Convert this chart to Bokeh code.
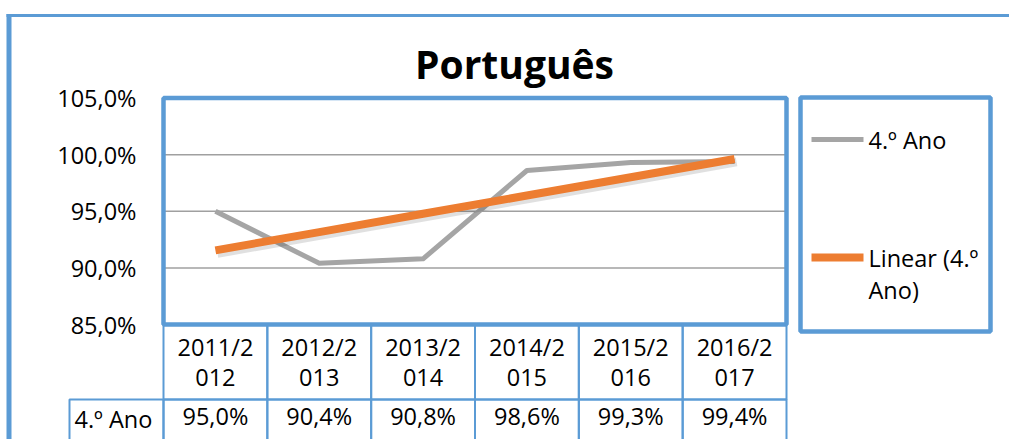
import numpy as np
from bokeh.plotting import figure
from bokeh.models import Range1d, FixedTicker, LinearAxis, BoxAnnotation, Label
from bokeh.embed import file_html
from bokeh.resources import INLINE

# ---------------- data ----------------
chart_title = "Português"
series_name = "4.º Ano"
trend_name = "Linear (4.º\nAno)"
categories = ["2011/2012", "2012/2013", "2013/2014", "2014/2015", "2015/2016", "2016/2017"]
values = [95.0, 90.4, 90.8, 98.6, 99.3, 99.4]
y_ticks = [85, 90, 95, 100, 105]
y_tick_labels = ["85,0%", "90,0%", "95,0%", "100,0%", "105,0%"]

# ---------------- style ----------------
BLUE = "#5B9BD5"
GRAY = "#A5A5A5"
ORANGE = "#ED7D31"
GRID = "#A0A0A0"
FONT = "Open Sans"
FS = "23.5px"
TXT = "#000000"

W, H = 1009, 439
# plot area (inner chart box) in pixels
PL, PR, PT, PB = 163.0, 786.0, 97.5, 324.0
XMIN, XMAX = 0.5, len(categories) + 0.5
YMIN, YMAX = y_ticks[0], y_ticks[-1]
KX = (XMAX - XMIN) / (PR - PL)
KY = (YMAX - YMIN) / (PB - PT)


def X(px):
    return XMIN + (px - PL) * KX


def Y(py):
    return YMIN + (PB - py) * KY


xs = list(range(1, len(categories) + 1))
coef = np.polyfit(xs, values, 1)
trend = [float(v) for v in np.polyval(coef, xs)]

p = figure(width=W, height=H, output_backend="svg", toolbar_location=None,
           x_range=Range1d(X(0), X(W)), y_range=Range1d(Y(H), Y(0)),
           min_border=0, x_axis_location=None, y_axis_location=None)
p.background_fill_color = "white"
p.border_fill_color = "white"
p.outline_line_color = None
p.grid.visible = False


def box(left, right, top, bottom, color, width):
    return BoxAnnotation(left=left, right=right, top=top, bottom=bottom,
                         fill_color=None, fill_alpha=0, line_color=color,
                         line_alpha=1, line_width=width)


def bar(left, right, top, bottom, color):
    return BoxAnnotation(left=left, right=right, top=top, bottom=bottom,
                         fill_color=color, fill_alpha=1, line_color=None)


# y axis (fixed at the plot area's left edge)
ya = LinearAxis(fixed_location=XMIN, ticker=FixedTicker(ticks=y_ticks),
                major_label_overrides=dict(zip(y_ticks, y_tick_labels)),
                axis_line_color=None, major_tick_line_color=None, minor_tick_line_color=None,
                major_label_standoff=21, major_label_text_font=FONT,
                major_label_text_font_size=FS, major_label_text_color=TXT)
p.add_layout(ya, "left")

# x axis 1: category header row of the data table
cat_labels = {x: c[:6] + "\n" + c[6:] for x, c in zip(xs, categories)}
ax1 = LinearAxis(fixed_location=YMIN, ticker=FixedTicker(ticks=xs),
                 major_label_overrides=cat_labels,
                 axis_line_color=None, major_tick_line_color=None,
                 minor_tick_line_color=None, major_label_standoff=0,
                 major_label_text_font=FONT, major_label_text_font_size=FS,
                 major_label_text_color=TXT, major_label_text_line_height=0.94)
p.add_layout(ax1, "below")

# x axis 2: value row of the data table
val_labels = {x: f"{v:.1f}".replace(".", ",") + "%" for x, v in zip(xs, values)}
ax2 = LinearAxis(fixed_location=Y(389), ticker=FixedTicker(ticks=xs),
                 major_label_overrides=val_labels,
                 axis_line_color=None, major_tick_line_color=None,
                 minor_tick_line_color=None, major_label_standoff=4,
                 major_label_text_font=FONT, major_label_text_font_size=FS,
                 major_label_text_color=TXT, major_label_text_line_height=0.94)
p.add_layout(ax2, "below")

# horizontal gridlines inside the plot area
grid_y = y_ticks[1:-1]
p.segment(x0=[XMIN] * len(grid_y), y0=grid_y, x1=[XMAX] * len(grid_y), y1=grid_y,
          line_color=GRID, line_width=1.5)

# series + linear trend line
p.line(xs, values, line_color=GRAY, line_width=5, line_join="round")
p.line([x + 2 * KX for x in xs], [t - 3 * KY for t in trend], line_color="black",
       line_alpha=0.12, line_width=9)
p.line(xs, trend, line_color=ORANGE, line_width=8)

# plot area border
p.add_layout(box(XMIN, XMAX, YMAX, YMIN, BLUE, 4.5))

# data table cell borders
for x in xs:
    p.add_layout(box(x - 0.5, x + 0.5, YMIN, Y(399), BLUE, 2))
    p.add_layout(box(x - 0.5, x + 0.5, Y(399), Y(445), BLUE, 2))
p.add_layout(box(X(69), XMIN, Y(399), Y(445), BLUE, 2))
p.add_layout(Label(x=X(74), y=Y(418), text=series_name, text_baseline="middle",
                   text_align="left", text_font=FONT, text_font_size=FS, text_color=TXT))

# legend (manual)
p.add_layout(box(X(800), X(990), Y(97), Y(331), BLUE, 4.5))
p.add_layout(bar(X(811), X(863), Y(136.5), Y(141.5), GRAY))
p.add_layout(bar(X(811), X(863), Y(253), Y(261), ORANGE))
p.add_layout(Label(x=X(868), y=Y(139), text=series_name, text_baseline="middle",
                   text_font=FONT, text_font_size=FS, text_color=TXT))
p.add_layout(Label(x=X(868), y=Y(273.5), text=trend_name, text_baseline="middle",
                   text_font=FONT, text_font_size=FS, text_color=TXT, text_line_height=1.03))

# chart title
p.add_layout(Label(x=X(514), y=Y(63), text=chart_title, text_align="center",
                   text_baseline="middle", text_font=FONT, text_font_size="39px",
                   text_font_style="bold", text_color=TXT))

# outer chart border
p.add_layout(bar(X(6), X(11), Y(13.5), Y(460), BLUE))
p.add_layout(bar(X(6), X(1020), Y(13.5), Y(16.5), BLUE))

open("out.html", "w").write(file_html(p, INLINE))
